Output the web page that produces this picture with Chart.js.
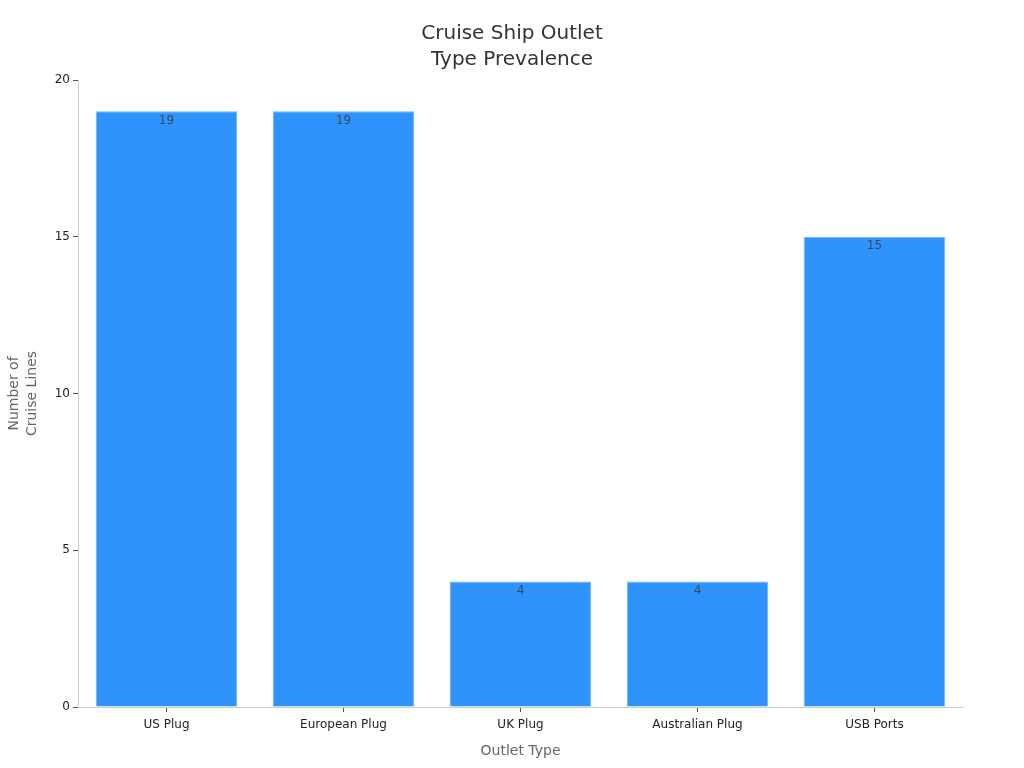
<!DOCTYPE html>
<html>
<head>
<meta charset="utf-8">
<script src="https://cdn.jsdelivr.net/npm/chart.js@4/dist/chart.umd.min.js"></script>
<style>
  html, body { margin: 0; padding: 0; background: #fff; }
  #wrap { width: 1024px; height: 768px; }
</style>
</head>
<body>
<div id="wrap"><canvas id="outletChart" width="1024" height="768"></canvas></div>
<script>
// Chart data
const outletTypes = ['US Plug', 'European Plug', 'UK Plug', 'Australian Plug', 'USB Ports'];
const cruiseLineCounts = [19, 19, 4, 4, 15];
const yTickStep = 5;
const yMax = 20;
const chartTitle = ['Cruise Ship Outlet', 'Type Prevalence'];

// Draw value labels just inside the top of each bar
const barValueLabels = {
    id: 'barValueLabels',
    afterDatasetsDraw(chart) {
        const ctx = chart.ctx;
        const meta = chart.getDatasetMeta(0);
        ctx.save();
        ctx.font = '12px "DejaVu Sans"';
        ctx.fillStyle = '#3d4a57';
        ctx.textAlign = 'center';
        ctx.textBaseline = 'middle';
        meta.data.forEach((bar, i) => {
            ctx.fillText(String(cruiseLineCounts[i]), bar.x, bar.y + 9.5);
        });
        ctx.restore();
    }
};

// Title centred on the whole canvas, not the plot area
const pageTitle = {
    id: 'pageTitle',
    afterDraw(chart) {
        const ctx = chart.ctx;
        ctx.save();
        ctx.font = '20px "DejaVu Sans"';
        ctx.fillStyle = '#333';
        ctx.textAlign = 'center';
        ctx.textBaseline = 'middle';
        chartTitle.forEach((line, i) => {
            ctx.fillText(line, chart.width / 2, 34 + i * 26);
        });
        ctx.restore();
    }
};

Chart.defaults.font.family = '"DejaVu Sans", sans-serif';

new Chart(document.getElementById('outletChart'), {
    type: 'bar',
    data: {
        labels: outletTypes,
        datasets: [{
            data: cruiseLineCounts,
            backgroundColor: '#2e93fa',
            borderColor: '#6cb4fb',
            borderWidth: 1,
            barPercentage: 0.8,
            categoryPercentage: 1
        }]
    },
    options: {
        responsive: false,
        animation: false,
        layout: { padding: { left: 0, right: 61, top: 80, bottom: 0 } },
        plugins: {
            legend: { display: false },
            tooltip: { enabled: false },
            title: { display: false }
        },
        scales: {
            x: {
                grid: { offset: false, drawOnChartArea: false, drawTicks: true, tickLength: 5, color: '#555' },
                border: { display: true, color: '#ccc' },
                ticks: { color: '#222', font: { size: 12 }, padding: 6 },
                title: {
                    display: true,
                    text: 'Outlet Type',
                    color: '#666',
                    font: { size: 14 },
                    padding: { top: 4, bottom: 8 }
                },
                afterFit(scale) { scale.height = 61; }
            },
            y: {
                min: 0,
                max: yMax,
                grid: { drawOnChartArea: false, drawTicks: true, tickLength: 5, color: '#555' },
                border: { display: true, color: '#ccc' },
                ticks: { stepSize: yTickStep, color: '#222', font: { size: 12 }, padding: 3 },
                title: {
                    display: true,
                    text: ['Number of', 'Cruise Lines'],
                    color: '#666',
                    font: { size: 14, lineHeight: 1.3 },
                    padding: { top: 5, bottom: 4 }
                },
                afterFit(scale) { scale.width = 78; }
            }
        }
    },
    plugins: [barValueLabels, pageTitle]
});
</script>
</body>
</html>
